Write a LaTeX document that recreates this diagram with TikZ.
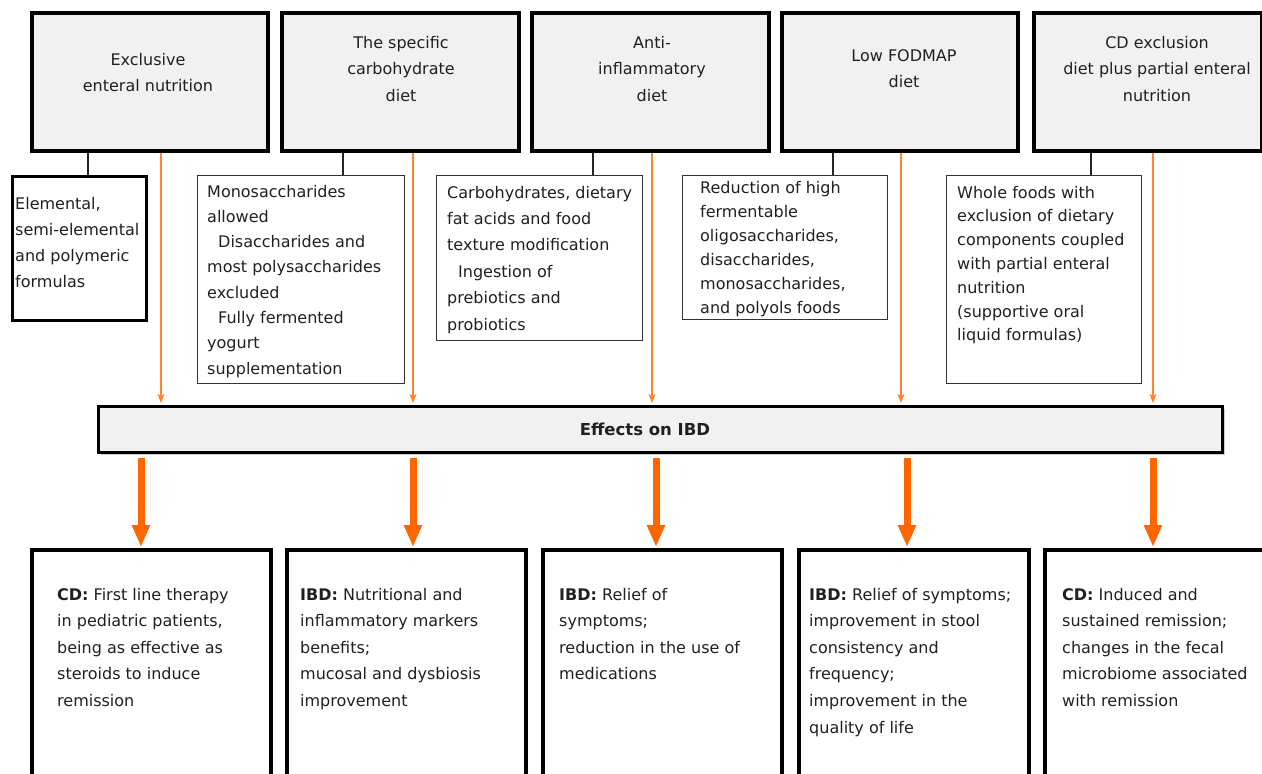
\documentclass[tikz,border=0pt]{standalone}
\usepackage{fontspec}
\setmainfont{DejaVu Sans}
\usetikzlibrary{arrows.meta,shadows}
\definecolor{txt}{HTML}{231F20}
\definecolor{boxfill}{HTML}{F1F1F1}
\definecolor{othin}{HTML}{FF8533}
\definecolor{othick}{HTML}{FF6600}
\definecolor{thinframe}{HTML}{333333}
\newcommand{\fsz}[1]{\fontsize{16}{#1}\selectfont}
\tikzset{
  shad/.style={drop shadow={shadow xshift=2pt, shadow yshift=-2pt, opacity=0.35, fill=black!55}},
  topbox/.style={draw=black, line width=4pt, fill=boxfill, anchor=north west, inner sep=0pt, shad},
  detbox/.style={draw=thinframe, line width=1.3pt, fill=white, anchor=north west, inner sep=0pt},
  detthick/.style={draw=black, line width=3pt, fill=white, anchor=north west, inner sep=0pt},
  effbox/.style={draw=black, line width=3pt, fill=boxfill, anchor=north west, inner sep=0pt, shad},
  botbox/.style={draw=black, line width=4pt, fill=white, anchor=north west, inner sep=0pt, shad},
  ctext/.style={anchor=base, inner sep=0pt, text=txt},
  ltext/.style={anchor=base west, inner sep=0pt, text=txt},
  link/.style={draw=black!85, line width=1.3pt},
  thinarrow/.style={draw=othin, line width=1.3pt, -{Stealth[length=9pt,width=7pt,inset=2pt]}, shorten >=2pt},
  thickarrow/.style={draw=othick, line width=7pt, -{Triangle[length=22pt,width=17pt]}, shorten <=4pt, shorten >=1pt},
}
\begin{document}
\begin{tikzpicture}[x=1pt,y=-1pt]
\clip (0,0) rectangle (1262,774);
\fill[white] (0,0) rectangle (1262,774);

% top boxes
\node[topbox, minimum width=236pt, minimum height=138pt] (t1) at (30,11) {};
\node[topbox, minimum width=237pt, minimum height=138pt] (t2) at (280,11) {};
\node[topbox, minimum width=237pt, minimum height=138pt] (t3) at (530,11) {};
\node[topbox, minimum width=236pt, minimum height=138pt] (t4) at (780,11) {};
\node[topbox, minimum width=228pt, minimum height=138pt] (t5) at (1032,11) {};

\node[ctext] (tt1) at (148,65) {\fsz{26.8}\begin{tabular}[t]{@{}c@{}}Exclusive\\enteral nutrition\end{tabular}};
\node[ctext] (tt2) at (401,48) {\fsz{26.8}\begin{tabular}[t]{@{}c@{}}The specific\\carbohydrate\\diet\end{tabular}};
\node[ctext] (tt3) at (652,48) {\fsz{26.8}\begin{tabular}[t]{@{}c@{}}Anti-\\inflammatory\\diet\end{tabular}};
\node[ctext] (tt4) at (904,61) {\fsz{26.8}\begin{tabular}[t]{@{}c@{}}Low FODMAP\\diet\end{tabular}};
\node[ctext] (tt5) at (1157,48) {\fsz{26.8}\begin{tabular}[t]{@{}c@{}}CD exclusion\\diet plus partial enteral\\nutrition\end{tabular}};

% detail boxes
\node[detthick, minimum width=134pt, minimum height=144pt] (d1) at (11,175) {};
\node[detbox, minimum width=207pt, minimum height=208pt] (d2) at (197,175) {};
\node[detbox, minimum width=206pt, minimum height=165pt] (d3) at (436,175) {};
\node[detbox, minimum width=205pt, minimum height=144pt] (d4) at (682,175) {};
\node[detbox, minimum width=195pt, minimum height=208pt] (d5) at (946,175) {};

\node[ltext] (dt1) at (15,209) {\fsz{26.3}\begin{tabular}[t]{@{}l@{}}Elemental,\\semi-elemental\\and polymeric\\formulas\end{tabular}};
\node[ltext] (dt2) at (207,197) {\fsz{25.3}\begin{tabular}[t]{@{}l@{}}Monosaccharides\\allowed\\\hspace*{11pt}Disaccharides and\\most polysaccharides\\excluded\\\hspace*{11pt}Fully fermented\\yogurt\\supplementation\end{tabular}};
\node[ltext] (dt3) at (447,198) {\fsz{26.4}\begin{tabular}[t]{@{}l@{}}Carbohydrates, dietary\\fat acids and food\\texture modification\\\hspace*{11pt}Ingestion of\\prebiotics and\\probiotics\end{tabular}};
\node[ltext] (dt4) at (700,193) {\fsz{24}\begin{tabular}[t]{@{}l@{}}Reduction of high\\fermentable\\oligosaccharides,\\disaccharides,\\monosaccharides,\\and polyols foods\end{tabular}};
\node[ltext] (dt5) at (957,198) {\fsz{23.8}\begin{tabular}[t]{@{}l@{}}Whole foods with\\exclusion of dietary\\components coupled\\with partial enteral\\nutrition\\(supportive oral\\liquid formulas)\end{tabular}};

% effects box
\node[effbox, minimum width=1124pt, minimum height=46pt] (eff) at (97,405) {};
\node[ctext] (efft) at (645,435) {\fontsize{16.5}{20}\selectfont\bfseries Effects on IBD};

% bottom boxes
\node[botbox, minimum width=239pt, minimum height=260pt] (b1) at (30,548) {};
\node[botbox, minimum width=239pt, minimum height=260pt] (b2) at (285,548) {};
\node[botbox, minimum width=239pt, minimum height=260pt] (b3) at (541,548) {};
\node[botbox, minimum width=230pt, minimum height=260pt] (b4) at (797,548) {};
\node[botbox, minimum width=240pt, minimum height=260pt] (b5) at (1043,548) {};

\node[ltext] (bt1) at (57,600) {\fsz{26.6}\begin{tabular}[t]{@{}l@{}}\textbf{CD:} First line therapy\\in pediatric patients,\\being as effective as\\steroids to induce\\remission\end{tabular}};
\node[ltext] (bt2) at (300,600) {\fsz{26.6}\begin{tabular}[t]{@{}l@{}}\textbf{IBD:} Nutritional and\\inflammatory markers\\benefits;\\mucosal and dysbiosis\\improvement\end{tabular}};
\node[ltext] (bt3) at (559,600) {\fsz{26.6}\begin{tabular}[t]{@{}l@{}}\textbf{IBD:} Relief of\\symptoms;\\reduction in the use of\\medications\end{tabular}};
\node[ltext] (bt4) at (809,600) {\fsz{26.6}\begin{tabular}[t]{@{}l@{}}\textbf{IBD:} Relief of symptoms;\\improvement in stool\\consistency and\\frequency;\\improvement in the\\quality of life\end{tabular}};
\node[ltext] (bt5) at (1062,600) {\fsz{26.6}\begin{tabular}[t]{@{}l@{}}\textbf{CD:} Induced and\\sustained remission;\\changes in the fecal\\microbiome associated\\with remission\end{tabular}};

% link x positions
\coordinate (k1) at (88,0);
\coordinate (k2) at (343,0);
\coordinate (k3) at (593,0);
\coordinate (k4) at (833,0);
\coordinate (k5) at (1091,0);
\coordinate (a1) at (161,0);
\coordinate (a2) at (413,0);
\coordinate (a3) at (652,0);
\coordinate (a4) at (901,0);
\coordinate (a5) at (1153,0);
\coordinate (m1) at (141,0);
\coordinate (m2) at (413,0);
\coordinate (m3) at (656,0);
\coordinate (m4) at (907,0);
\coordinate (m5) at (1153,0);

\draw[link] (t1.south -| k1) -- (d1.north -| k1);
\draw[link] (t2.south -| k2) -- (d2.north -| k2);
\draw[link] (t3.south -| k3) -- (d3.north -| k3);
\draw[link] (t4.south -| k4) -- (d4.north -| k4);
\draw[link] (t5.south -| k5) -- (d5.north -| k5);

\draw[thinarrow] (t1.south -| a1) -- (eff.north -| a1);
\draw[thinarrow] (t2.south -| a2) -- (eff.north -| a2);
\draw[thinarrow] (t3.south -| a3) -- (eff.north -| a3);
\draw[thinarrow] (t4.south -| a4) -- (eff.north -| a4);
\draw[thinarrow] (t5.south -| a5) -- (eff.north -| a5);

\draw[thickarrow] (eff.south -| m1) -- (b1.north -| m1);
\draw[thickarrow] (eff.south -| m2) -- (b2.north -| m2);
\draw[thickarrow] (eff.south -| m3) -- (b3.north -| m3);
\draw[thickarrow] (eff.south -| m4) -- (b4.north -| m4);
\draw[thickarrow] (eff.south -| m5) -- (b5.north -| m5);
\end{tikzpicture}
\end{document}
